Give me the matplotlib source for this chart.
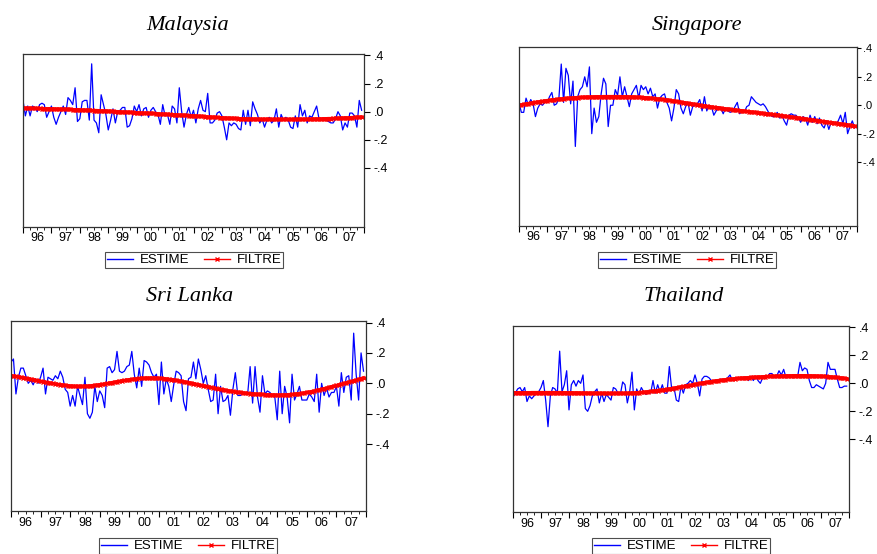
import matplotlib
matplotlib.use("Agg")
import matplotlib.pyplot as plt
import numpy as np

# monthly observations, Jan 1996 - Dec 2007
years = list(range(1996, 2008))
yearLabels = ["96", "97", "98", "99", "00", "01", "02", "03", "04", "05", "06", "07"]
yTicks = [0.4, 0.2, 0.0, -0.2, -0.4]
yTickLabels = [".4", ".2", ".0", "-.2", "-.4"]

malaysiaEstime = [
    0.08, -0.03, 0.04, -0.03, 0.04, 0.03, 0.00, 0.05, 0.06, 0.05, -0.04, 0.00,
    0.04, -0.04, -0.09, -0.04, 0.00, 0.04, -0.02, 0.10, 0.08, 0.05, 0.17, -0.07,
    -0.05, 0.07, 0.08, 0.08, -0.06, 0.34, -0.06, -0.08, -0.15, 0.12, 0.05, -0.02,
    -0.13, -0.06, 0.02, -0.08, 0.00, 0.01, 0.03, 0.03, -0.11, -0.10, -0.05, 0.04,
    0.00, 0.05, -0.03, 0.02, 0.03, -0.04, 0.01, 0.03, 0.00, -0.02, -0.09, 0.05,
    -0.03, -0.02, -0.09, 0.04, 0.02, -0.08, 0.17, 0.00, -0.11, -0.02, 0.03, -0.04,
    0.01, -0.08, 0.02, 0.08, 0.01, 0.00, 0.13, -0.08, -0.08, -0.06, -0.01, 0.00,
    -0.03, -0.11, -0.20, -0.08, -0.10, -0.08, -0.09, -0.12, -0.13, 0.01, -0.09, 0.01,
    -0.10, 0.07, 0.02, -0.02, -0.08, -0.05, -0.11, -0.06, -0.04, -0.08, -0.06, 0.02,
    -0.11, -0.02, -0.06, -0.04, -0.06, -0.11, -0.12, -0.03, -0.11, 0.05, -0.03, 0.01,
    -0.08, -0.03, -0.04, 0.00, 0.04, -0.05, -0.05, -0.06, -0.06, -0.07, -0.08, -0.08,
    -0.05, 0.00, -0.03, -0.13, -0.08, -0.11, -0.01, -0.01, -0.03, -0.11, 0.08, 0.01,
]
malaysiaFiltre = [
    0.026, 0.026, 0.025, 0.025, 0.024, 0.024, 0.023, 0.023, 0.022, 0.022, 0.021, 0.021,
    0.020, 0.020, 0.019, 0.019, 0.018, 0.018, 0.017, 0.016, 0.016, 0.015, 0.014, 0.014,
    0.013, 0.012, 0.012, 0.011, 0.010, 0.009, 0.008, 0.008, 0.007, 0.006, 0.005, 0.005,
    0.004, 0.003, 0.002, 0.001, 0.000, -0.001, -0.002, -0.003, -0.003, -0.004, -0.005, -0.006,
    -0.007, -0.008, -0.009, -0.010, -0.010, -0.011, -0.012, -0.013, -0.014, -0.015, -0.016, -0.017,
    -0.018, -0.019, -0.020, -0.021, -0.022, -0.023, -0.024, -0.025, -0.026, -0.027, -0.028, -0.029,
    -0.030, -0.031, -0.032, -0.033, -0.034, -0.036, -0.037, -0.038, -0.039, -0.040, -0.041, -0.042,
    -0.043, -0.044, -0.045, -0.046, -0.047, -0.048, -0.048, -0.049, -0.050, -0.050, -0.051, -0.051,
    -0.052, -0.052, -0.053, -0.053, -0.053, -0.054, -0.054, -0.054, -0.054, -0.055, -0.055, -0.055,
    -0.055, -0.055, -0.055, -0.055, -0.055, -0.055, -0.055, -0.055, -0.054, -0.054, -0.054, -0.054,
    -0.053, -0.053, -0.053, -0.052, -0.052, -0.051, -0.051, -0.050, -0.050, -0.049, -0.049, -0.048,
    -0.047, -0.047, -0.046, -0.045, -0.044, -0.044, -0.043, -0.042, -0.041, -0.040, -0.039, -0.038,
]

singaporeEstime = [
    0.02, -0.05, -0.05, 0.05, 0.00, 0.04, 0.01, -0.08, -0.02, 0.01, 0.00, 0.02,
    0.02, 0.06, 0.09, 0.00, 0.01, 0.05, 0.29, 0.02, 0.26, 0.21, 0.01, 0.17,
    -0.29, 0.06, 0.11, 0.13, 0.20, 0.13, 0.27, -0.20, -0.02, -0.12, -0.08, 0.08,
    0.19, 0.15, -0.15, 0.00, 0.00, 0.11, 0.07, 0.20, 0.06, 0.13, 0.06, -0.01,
    0.08, 0.11, 0.14, 0.05, 0.14, 0.11, 0.13, 0.08, 0.12, 0.06, 0.08, -0.02,
    0.05, 0.07, 0.08, 0.02, -0.02, -0.11, -0.02, 0.11, 0.08, -0.02, -0.06, -0.01,
    0.02, -0.07, -0.01, 0.00, 0.01, 0.04, -0.04, 0.06, -0.04, 0.00, -0.01, -0.07,
    -0.04, -0.01, -0.02, -0.06, -0.02, -0.04, -0.05, -0.04, -0.01, 0.02, -0.06, -0.04,
    -0.05, -0.01, 0.00, 0.06, 0.04, 0.02, 0.01, 0.00, 0.01, -0.01, -0.04, -0.07,
    -0.08, -0.08, -0.05, -0.09, -0.07, -0.11, -0.14, -0.07, -0.06, -0.07, -0.07, -0.09,
    -0.12, -0.08, -0.09, -0.14, -0.07, -0.12, -0.08, -0.13, -0.09, -0.14, -0.16, -0.11,
    -0.17, -0.12, -0.13, -0.13, -0.11, -0.07, -0.13, -0.05, -0.20, -0.15, -0.11, -0.16,
]
singaporeFiltre = [
    0.000, 0.003, 0.006, 0.009, 0.012, 0.015, 0.018, 0.021, 0.023, 0.026, 0.028, 0.031,
    0.033, 0.035, 0.037, 0.039, 0.041, 0.043, 0.045, 0.047, 0.048, 0.050, 0.051, 0.052,
    0.053, 0.054, 0.055, 0.056, 0.057, 0.058, 0.058, 0.059, 0.059, 0.060, 0.060, 0.060,
    0.061, 0.061, 0.061, 0.061, 0.061, 0.061, 0.061, 0.061, 0.060, 0.060, 0.060, 0.059,
    0.059, 0.058, 0.057, 0.056, 0.055, 0.054, 0.053, 0.052, 0.050, 0.049, 0.047, 0.045,
    0.043, 0.041, 0.039, 0.037, 0.035, 0.032, 0.030, 0.027, 0.025, 0.022, 0.019, 0.017,
    0.014, 0.011, 0.009, 0.006, 0.003, 0.001, -0.002, -0.004, -0.007, -0.009, -0.012, -0.014,
    -0.016, -0.018, -0.021, -0.023, -0.025, -0.027, -0.029, -0.031, -0.033, -0.035, -0.037, -0.039,
    -0.041, -0.043, -0.045, -0.047, -0.049, -0.051, -0.053, -0.055, -0.057, -0.059, -0.061, -0.063,
    -0.065, -0.067, -0.069, -0.071, -0.073, -0.076, -0.078, -0.080, -0.082, -0.085, -0.087, -0.089,
    -0.092, -0.094, -0.096, -0.099, -0.101, -0.103, -0.106, -0.108, -0.110, -0.113, -0.115, -0.117,
    -0.120, -0.122, -0.124, -0.127, -0.129, -0.131, -0.134, -0.136, -0.138, -0.141, -0.143, -0.146,
]

sriLankaEstime = [
    0.14, 0.16, -0.07, 0.04, 0.10, 0.10, 0.05, 0.00, 0.02, -0.01, 0.03, 0.00,
    0.04, 0.10, -0.07, 0.04, 0.03, 0.02, 0.05, 0.03, 0.08, 0.04, -0.04, -0.06,
    -0.15, -0.08, -0.15, -0.02, -0.08, -0.14, 0.04, -0.20, -0.23, -0.19, -0.02, -0.12,
    -0.05, -0.08, -0.16, 0.10, 0.11, 0.07, 0.09, 0.21, 0.08, 0.07, 0.08, 0.11,
    0.12, 0.21, 0.06, -0.03, 0.10, -0.02, 0.15, 0.14, 0.12, 0.07, 0.04, 0.06,
    -0.14, 0.14, -0.07, 0.03, -0.02, -0.12, -0.01, 0.08, 0.07, 0.05, -0.12, -0.18,
    0.03, 0.04, 0.14, 0.03, 0.16, 0.09, 0.00, 0.05, -0.04, -0.12, -0.11, 0.06,
    -0.20, -0.02, -0.12, -0.11, -0.08, -0.21, -0.04, 0.07, -0.08, -0.08, -0.07, -0.06,
    -0.07, 0.11, -0.13, 0.11, -0.09, -0.19, 0.05, -0.07, -0.05, -0.06, -0.08, -0.09,
    -0.24, 0.08, -0.20, -0.02, -0.09, -0.26, 0.06, -0.11, -0.07, -0.02, -0.11, -0.11,
    -0.11, -0.07, -0.09, -0.12, 0.06, -0.19, 0.00, -0.08, -0.03, -0.09, -0.06, -0.06,
    -0.02, -0.15, 0.07, -0.06, 0.04, 0.05, -0.11, 0.33, 0.06, -0.11, 0.20, 0.08,
]
sriLankaFiltre = [
    0.050, 0.048, 0.046, 0.043, 0.040, 0.037, 0.034, 0.031, 0.028, 0.024, 0.021, 0.018,
    0.014, 0.011, 0.008, 0.005, 0.002, -0.001, -0.004, -0.007, -0.009, -0.011, -0.013, -0.015,
    -0.017, -0.018, -0.019, -0.020, -0.020, -0.020, -0.019, -0.018, -0.017, -0.015, -0.013, -0.011,
    -0.009, -0.006, -0.004, -0.001, 0.002, 0.005, 0.008, 0.011, 0.014, 0.017, 0.019, 0.022,
    0.024, 0.026, 0.028, 0.030, 0.032, 0.033, 0.034, 0.035, 0.035, 0.035, 0.035, 0.034,
    0.033, 0.032, 0.031, 0.029, 0.027, 0.025, 0.023, 0.020, 0.017, 0.014, 0.011, 0.008,
    0.005, 0.002, -0.002, -0.005, -0.009, -0.012, -0.016, -0.019, -0.023, -0.026, -0.030, -0.033,
    -0.036, -0.039, -0.042, -0.045, -0.048, -0.051, -0.053, -0.056, -0.058, -0.060, -0.062, -0.064,
    -0.066, -0.068, -0.069, -0.070, -0.071, -0.072, -0.073, -0.074, -0.075, -0.075, -0.076, -0.076,
    -0.077, -0.077, -0.076, -0.076, -0.075, -0.074, -0.072, -0.071, -0.069, -0.067, -0.065, -0.063,
    -0.060, -0.057, -0.054, -0.050, -0.047, -0.043, -0.039, -0.035, -0.031, -0.027, -0.022, -0.018,
    -0.014, -0.010, -0.005, -0.001, 0.004, 0.008, 0.012, 0.017, 0.021, 0.026, 0.031, 0.036,
]

thailandEstime = [
    -0.10, -0.07, -0.04, -0.03, -0.06, -0.03, -0.13, -0.09, -0.11, -0.09, -0.07, -0.06,
    -0.03, 0.02, -0.12, -0.31, -0.09, -0.03, -0.04, -0.07, 0.23, -0.06, -0.01, 0.09,
    -0.19, -0.01, 0.02, -0.02, 0.02, 0.00, 0.06, -0.18, -0.20, -0.16, -0.09, -0.06,
    -0.04, -0.14, -0.07, -0.13, -0.08, -0.10, -0.12, -0.03, -0.04, -0.07, -0.08, 0.01,
    -0.01, -0.14, -0.06, 0.08, -0.19, -0.04, -0.08, -0.03, -0.06, -0.08, -0.05, -0.07,
    0.02, -0.07, -0.01, -0.06, -0.01, -0.07, -0.07, 0.12, -0.04, -0.03, -0.12, -0.13,
    -0.02, -0.07, -0.01, 0.00, 0.02, 0.00, 0.06, 0.00, -0.09, 0.03, 0.05, 0.05,
    0.04, 0.02, 0.02, 0.01, 0.02, 0.03, 0.02, 0.02, 0.04, 0.06, 0.02, 0.03,
    0.04, 0.04, 0.03, 0.03, 0.04, 0.02, 0.05, 0.02, 0.05, 0.02, 0.00, 0.04,
    0.05, 0.05, 0.07, 0.07, 0.04, 0.05, 0.09, 0.06, 0.10, 0.04, 0.05, 0.05,
    0.04, 0.05, 0.05, 0.15, 0.09, 0.11, 0.10, 0.02, -0.03, -0.03, -0.01, -0.02,
    -0.03, -0.04, 0.00, 0.15, 0.10, 0.10, 0.10, 0.03, -0.03, -0.03, -0.02, -0.02,
]
thailandFiltre = [
    -0.067, -0.067, -0.067, -0.067, -0.067, -0.067, -0.067, -0.067, -0.066, -0.066, -0.066, -0.066,
    -0.066, -0.066, -0.066, -0.066, -0.066, -0.066, -0.066, -0.066, -0.066, -0.066, -0.067, -0.067,
    -0.067, -0.067, -0.068, -0.068, -0.068, -0.069, -0.069, -0.069, -0.070, -0.070, -0.070, -0.071,
    -0.071, -0.071, -0.071, -0.072, -0.072, -0.072, -0.072, -0.072, -0.072, -0.072, -0.072, -0.071,
    -0.071, -0.070, -0.070, -0.069, -0.068, -0.067, -0.066, -0.065, -0.063, -0.062, -0.060, -0.058,
    -0.056, -0.054, -0.052, -0.050, -0.048, -0.045, -0.043, -0.040, -0.037, -0.034, -0.031, -0.028,
    -0.025, -0.022, -0.019, -0.016, -0.013, -0.010, -0.007, -0.004, -0.001, 0.002, 0.005, 0.008,
    0.010, 0.013, 0.015, 0.018, 0.020, 0.022, 0.024, 0.026, 0.028, 0.030, 0.032, 0.033,
    0.035, 0.036, 0.038, 0.039, 0.040, 0.041, 0.042, 0.043, 0.044, 0.045, 0.046, 0.047,
    0.048, 0.049, 0.050, 0.050, 0.051, 0.052, 0.052, 0.053, 0.053, 0.054, 0.054, 0.054,
    0.055, 0.055, 0.055, 0.055, 0.055, 0.055, 0.054, 0.054, 0.054, 0.053, 0.053, 0.052,
    0.051, 0.050, 0.049, 0.048, 0.047, 0.045, 0.044, 0.042, 0.040, 0.038, 0.036, 0.034,
]

W, H = 878, 554
SANS = "Liberation Sans"
SERIF = "Liberation Serif"


def px(left, top, right, bottom):
    return [left / W, 1 - bottom / H, (right - left) / W, (bottom - top) / H]


def panel(fig, box, title, titlePos, estime, filtre, ymin, legendPos,
          ySize=9, yLen=4, yPad=3):
    ax = fig.add_axes(px(*box))
    months = np.arange(len(estime))
    x = years[0] + months / 12.0
    ax.plot(x, estime, color="#0000ff", lw=0.9, label="ESTIME")
    ax.plot(x, filtre, color="#ff0000", lw=2.4, marker="x", ms=3.5, mew=1.0,
            label="FILTRE")

    ax.set_xlim(x[0], x[-1])
    ax.set_ylim(ymin, 0.41)

    # year boundaries (major), quarters (minor), labels mid-year
    ax.set_xticks(years + [years[-1] + 1])
    ax.set_xticklabels([])
    ax.set_xticks([y + q / 4 for y in years for q in (1, 2, 3)], minor=True)
    ax.tick_params(axis="x", which="major", direction="out", length=4, width=0.8)
    ax.tick_params(axis="x", which="minor", direction="out", length=2, width=0.6)
    for y, lab in zip(years, yearLabels):
        ax.text(y + 0.5, -0.03, lab, transform=ax.get_xaxis_transform(),
                ha="center", va="top", fontsize=9, family=SANS)

    ax.yaxis.tick_right()
    ax.set_yticks(yTicks)
    ax.set_yticklabels(yTickLabels, family=SANS, fontsize=ySize)
    ax.tick_params(axis="y", direction="out", length=yLen, width=0.8, pad=yPad)

    for s in ax.spines.values():
        s.set_color("#333333")
        s.set_linewidth(0.9)

    fig.text(titlePos[0] / W, 1 - titlePos[1] / H, title, family=SERIF,
             style="italic", fontsize=16, ha="center", va="baseline")

    handles, labels = ax.get_legend_handles_labels()
    leg = fig.legend(handles, labels, loc="center",
                     bbox_to_anchor=(legendPos[0] / W, 1 - legendPos[1] / H),
                     ncol=2, prop={"family": SANS, "size": 9.5},
                     frameon=True, fancybox=False, handlelength=2.0,
                     columnspacing=1.1, handletextpad=0.5, borderpad=0.15,
                     borderaxespad=0)
    leg.get_frame().set_edgecolor("#222222")
    leg.get_frame().set_linewidth(0.8)
    for line in leg.get_lines():
        line.set_linewidth(1.0)
        line.set_markersize(2.5)
    return ax


fig = plt.figure(figsize=(W / 100, H / 100), dpi=100)

panel(fig, (23, 54, 364, 227), "Malaysia", (188, 30),
      malaysiaEstime, malaysiaFiltre, -0.82, (194, 260))
# right-hand labels squeezed so they stay inside the figure edge
panel(fig, (519, 47, 857, 226), "Singapore", (697, 30),
      singaporeEstime, singaporeFiltre, -0.85, (687, 260),
      ySize=8, yLen=3, yPad=1)
panel(fig, (11, 321, 366, 511), "Sri Lanka", (190, 301),
      sriLankaEstime, sriLankaFiltre, -0.84, (188, 546))
panel(fig, (513, 326, 849, 512), "Thailand", (684, 301),
      thailandEstime, thailandFiltre, -0.92, (681, 546))

fig.savefig("out.png", dpi=100)
